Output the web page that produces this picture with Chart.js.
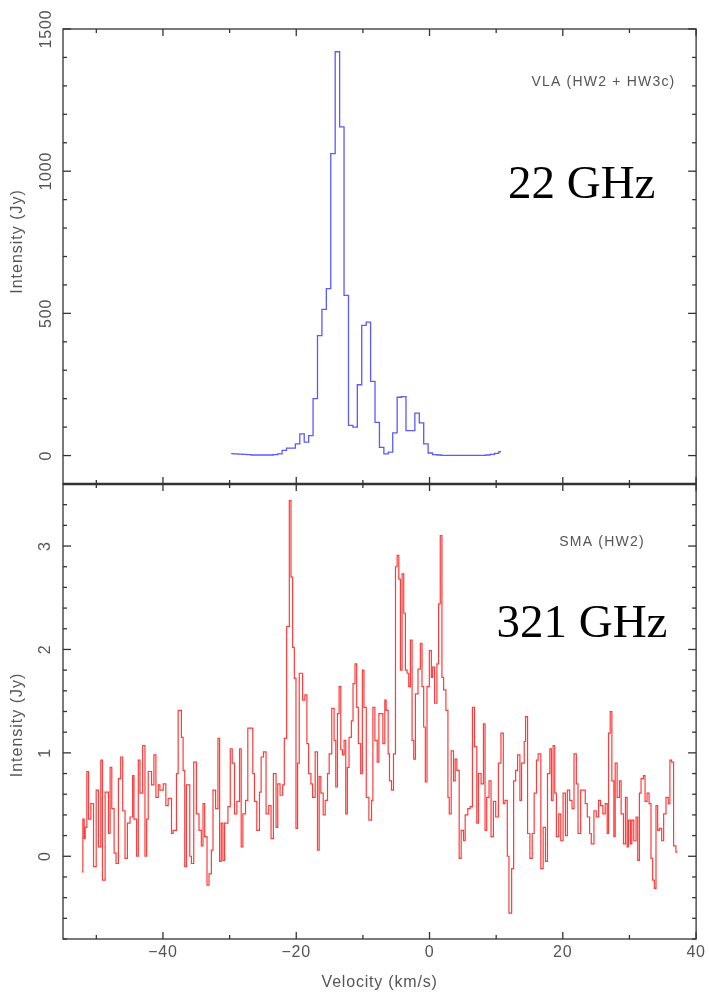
<!DOCTYPE html>
<html>
<head>
<meta charset="utf-8">
<script src="https://cdn.jsdelivr.net/npm/chart.js@4.4.1/dist/chart.umd.min.js"></script>
<style>
  html, body { margin: 0; padding: 0; background: #fff; }
  canvas { display: block; }
</style>
</head>
<body>
<canvas id="spec" width="709" height="994"></canvas>
<script>
// ---- VLA 22 GHz water maser spectrum (HW2 + HW3c), uniform channel grid ----
const vlaFirstChannel = -29.76;   // km/s, centre of first channel
const vlaChannelWidth = 0.664;    // km/s
const vlaFlux = [
  7, 6, 5, 4, 3, 2, 2, 2, 2, 2, 3,
  6, 18, 26, 26, 41, 76, 47, 70, 200, 422,
  514, 587, 1062, 1420, 1156, 563, 106, 100, 249, 458,
  469, 261, 117, 29, 6, 12, 80, 205, 207, 88,
  88, 149, 115, 41, 9, 3,
  2, 1, 1, 1, 1, 1, 1, 1, 1, 1, 1, 2, 4, 8, 14
];

// ---- SMA 321 GHz spectrum (HW2): channel left edges and flux ----
const smaVel = [
  -52.17, -52.02, -51.82, -51.67, -51.42, -51.17, -50.82, -50.42, -50.02, -49.68,
  -49.33, -49.08, -48.68, -48.18, -47.93, -47.68, -47.33, -47.04, -46.69, -46.34,
  -46.04, -45.69, -45.34, -44.94, -44.55, -44.35, -43.95, -43.70, -43.45, -43.05,
  -42.70, -42.45, -42.21, -41.71, -41.36, -41.06, -40.71, -40.46, -39.96, -39.57,
  -39.22, -38.72, -38.47, -37.97, -37.72, -37.23, -36.98, -36.73, -36.48, -35.98,
  -35.73, -35.38, -34.98, -34.59, -34.24, -33.99, -33.74, -33.39, -33.09, -32.74,
  -32.49, -32.10, -31.75, -31.50, -31.25, -31.00, -30.75, -30.25, -29.90, -29.61,
  -29.26, -28.91, -28.51, -28.26, -28.01, -27.61, -27.27, -26.52, -26.27, -25.92,
  -25.52, -25.27, -24.92, -24.53, -24.13, -23.78, -23.43, -23.03, -22.78, -22.43,
  -22.04, -21.79, -21.44, -21.04, -20.79, -20.54, -20.29, -20.04, -19.80, -19.55,
  -19.05, -18.70, -18.40, -18.15, -17.80, -17.55, -17.16, -16.81, -16.56, -16.31,
  -15.96, -15.66, -15.31, -15.06, -14.67, -14.32, -14.07, -13.82, -13.57, -13.32,
  -13.07, -12.82, -12.57, -12.33, -12.08, -11.73, -11.48, -11.18, -10.93, -10.68,
  -10.33, -10.08, -9.84, -9.49,
  -9.10, -8.70, -8.50, -8.20, -7.85, -7.60, -7.00, -6.71, -6.51, -6.21,
  -6.01, -5.71, -5.41, -5.11, -4.86, -4.61, -4.37, -4.12, -3.87, -3.62,
  -3.37, -3.12, -2.87, -2.62, -2.37, -2.12, -1.73, -1.38, -1.13, -0.88,
  -0.63, -0.38, -0.03, 0.27, 0.47, 0.76, 1.11, 1.36, 1.61, 1.86,
  2.11, 2.46, 2.76, 2.96, 3.25, 3.60, 3.85, 4.10, 4.45, 4.75,
  5.10, 5.35, 5.74, 6.09, 6.44, 6.74, 7.09, 7.34, 7.74, 8.09,
  8.33, 8.58, 8.93, 9.23, 9.58, 9.93, 10.33, 10.72, 11.07, 11.32,
  11.67, 11.92, 12.32, 12.62, 12.92, 13.21, 13.56, 13.81, 14.21, 14.41,
  14.71, 15.06, 15.41, 15.70, 16.05, 16.30, 16.70, 17.05, 17.40, 17.70,
  18.05, 18.29, 18.54, 18.79, 19.04, 19.39, 19.69, 20.04, 20.39, 20.68,
  21.03, 21.38, 21.68, 22.03, 22.28, 22.68, 23.37, 23.67, 24.02, 24.27,
  24.67, 25.02, 25.37, 25.66, 26.01, 26.36, 26.66, 26.86, 27.11, 27.36,
  27.66, 27.86, 28.15, 28.50, 28.75, 29.10, 29.40, 29.65, 29.85, 30.15,
  30.35, 30.64, 30.99, 31.24, 31.49, 31.74, 32.09, 32.34, 32.64, 32.94,
  33.23, 33.48, 33.73, 33.98, 34.23, 34.48, 34.83, 35.13, 35.48, 35.82,
  36.07, 36.32, 36.62, 36.97, 37.22
];
const smaFlux = [
  -0.15, 0.36, 0.17, 0.28, 0.82, 0.36, 0.51, -0.10, 0.64, 0.09,
  0.93, -0.23, 0.62, 0.22, 0.86, 0.46, 0.03, -0.07, 0.75, 0.96,
  0.44, -0.02, 0.32, 0.38, 0.78, 0.36, 0.00, 0.93, 0.61, 1.07,
  0.00, 0.36, 0.82, 0.69, 0.98, 0.57, 0.69, 0.64, 0.70, 0.49,
  0.56, 0.22, 0.25, 0.80, 1.41, 1.15, 0.83, -0.10, 0.69, 0.00,
  -0.07, 0.91, 0.41, 0.25, 0.10, 0.51, 0.19, -0.28, -0.17, 0.06,
  0.64, 0.46, 1.14, -0.05, 0.32, -0.04, 0.32, 0.48, 1.04, 0.90,
  0.41, 0.53, 1.04, 0.09, 0.41, 0.54, 1.24, 0.80, 0.53, 0.25,
  0.62, 0.96, 1.01, 0.41, 0.49, 0.17, 0.80, 0.28, 0.70, 0.59,
  0.69, 1.14, 2.22, 3.44, 2.70, 2.02, 1.72, 0.27, 0.90, 1.77,
  1.51, 1.56, 1.09, 0.80, 0.70, 0.57, 1.01, 0.06, 0.77, 0.61,
  0.40, 0.54, 0.80, 0.99, 1.43, 1.12, 0.67, 1.38, 1.64, 1.03,
  0.98, 1.12, 0.41, 0.86, 1.15, 1.31, 1.67, 1.86, 1.44, 1.09,
  0.80, 1.80, 1.44, 0.57,
  0.35, 0.54, 1.44, 1.12, 0.91, 1.38, 1.09, 1.51, 1.41, 0.99,
  0.73, 0.64, 0.99, 2.80, 2.91, 2.68, 1.80, 2.73, 2.35, 1.80,
  1.77, 1.64, 2.09, 1.12, 0.94, 1.57, 1.81, 2.06, 1.64, 1.25,
  0.72, 1.64, 1.99, 1.73, 1.83, 1.48, 1.86, 2.44, 3.10, 1.73,
  1.61, 1.41, 0.57, 0.41, 1.02, 0.73, 0.94, 0.83, -0.02, 0.25,
  0.15, 0.40, 0.46, 0.48, 1.44, 1.06, 0.32, 0.80, 0.70, 1.28,
  0.25, 0.57, 0.73, 0.19, 0.53, 0.38, 0.90, 1.19, 0.51, 0.54,
  0.00, -0.55, -0.12, 0.73, 0.83, 0.98, 0.54, 0.90, 1.11, 1.35,
  0.22, -0.02, 0.22, 0.61, 0.93, 0.99, -0.12, 0.28, -0.05, 0.80,
  1.04, 0.54, 1.07, 0.61, 0.19, 0.41, 0.15, 0.61, 0.20, 0.64,
  0.54, 0.46, 0.99, 0.70, 0.22, 0.64, 0.51, 0.38, 0.22, 0.12,
  0.44, 0.38, 0.54, 0.49, 0.41, 0.51, 0.22, 1.19, 1.40, 0.73,
  0.19, 0.90, 0.57, 0.73, 0.41, 0.12, 0.57, 0.09, 0.35, 0.12,
  0.35, 0.15, 0.38, -0.04, 0.61, 0.75, 0.78, 0.53, 0.61, 0.51,
  -0.02, -0.23, -0.31, 0.49, 0.25, 0.27, 0.15, 0.41, 0.57, 0.51,
  0.93, 0.91, 0.10, 0.04, 0.04
];

// ---- axis ticks ----
const velTicks = [-50, -40, -30, -20, -10, 0, 10, 20, 30, 40];
const vlaTicks = [-100, 0, 100, 200, 300, 400, 500, 600, 700, 800, 900,
                  1000, 1100, 1200, 1300, 1400, 1500];
const smaTicks = [-0.8, -0.6, -0.4, -0.2, 0, 0.2, 0.4, 0.6, 0.8, 1, 1.2, 1.4,
                  1.6, 1.8, 2, 2.2, 2.4, 2.6, 2.8, 3, 3.2, 3.4, 3.6];

const vlaPoints = vlaFlux.map((f, i) => ({ x: vlaFirstChannel + i * vlaChannelWidth, y: f }));
const smaPoints = smaVel.map((v, i) => ({ x: v, y: smaFlux[i] }));

const SANS = "'Liberation Sans', Arial, Helvetica, sans-serif";
const SERIF = "'Liberation Serif', 'Times New Roman', serif";
const GREY = '#555';

// panel annotations, placed in data coordinates
const notes = [
  { text: 'VLA (HW2 + HW3c)', axis: 'yVla', v: 36.9, y: 1313, font: '14px ' + SANS, color: GREY, spacing: '1.2px', baseline: 'middle' },
  { text: '22 GHz', axis: 'yVla', v: 33.9, y: 905, font: '47px ' + SERIF, color: '#000', spacing: '0px', baseline: 'alphabetic' },
  { text: 'SMA (HW2)', axis: 'ySma', v: 32.3, y: 3.04, font: '14px ' + SANS, color: GREY, spacing: '1.2px', baseline: 'middle' },
  { text: '321 GHz', axis: 'ySma', v: 35.7, y: 2.12, font: '47px ' + SERIF, color: '#000', spacing: '0px', baseline: 'alphabetic' }
];
// y-axis titles, centred on these intensities of each panel
const yTitles = [
  { text: 'Intensity (Jy)', axis: 'yVla', y: 753 },
  { text: 'Intensity (Jy)', axis: 'ySma', y: 1.27 }
];

const fmtVel = v => (v < 0 ? '\u2212' + Math.abs(v) : String(v));

// slightly open letter spacing for all axis text
const axisTextSpacing = {
  id: 'axisTextSpacing',
  beforeDraw(chart) { chart.ctx.letterSpacing = '0.8px'; }
};

// boxed panels with inward tick marks on every side, plus the panel labels
const panelFrames = {
  id: 'panelFrames',
  afterDraw(chart) {
    const { ctx, chartArea: a, scales } = chart;
    const xs = scales.x;
    const panels = [scales.yVla, scales.ySma];
    const seg = (x1, y1, x2, y2) => { ctx.beginPath(); ctx.moveTo(x1, y1); ctx.lineTo(x2, y2); ctx.stroke(); };
    ctx.save();
    ctx.strokeStyle = '#333';
    ctx.lineWidth = 1.3;
    panels.forEach(ys => {
      ctx.strokeRect(a.left, ys.top, a.right - a.left, ys.bottom - ys.top);
      xs.ticks.forEach(t => {
        const px = xs.getPixelForValue(t.value);
        const len = t.value % 20 === 0 ? 7 : 4;
        seg(px, ys.top, px, ys.top + len);
        seg(px, ys.bottom, px, ys.bottom - len);
      });
      ys.ticks.forEach(t => {
        const py = ys.getPixelForValue(t.value);
        const len = t.label ? 8 : 4;
        seg(a.left, py, a.left + len, py);
        seg(a.right, py, a.right - len, py);
      });
    });
    // shared boundary between the two panels
    ctx.lineWidth = 2.6;
    seg(a.left, scales.yVla.bottom, a.right, scales.yVla.bottom);

    notes.forEach(n => {
      ctx.font = n.font;
      ctx.fillStyle = n.color;
      ctx.textAlign = 'right';
      ctx.textBaseline = n.baseline;
      ctx.letterSpacing = n.spacing;
      ctx.fillText(n.text, xs.getPixelForValue(n.v), scales[n.axis].getPixelForValue(n.y));
    });

    ctx.font = '16px ' + SANS;
    ctx.fillStyle = GREY;
    ctx.textAlign = 'center';
    ctx.textBaseline = 'middle';
    ctx.letterSpacing = '1px';
    yTitles.forEach(t => {
      ctx.save();
      ctx.translate(18, scales[t.axis].getPixelForValue(t.y));
      ctx.rotate(-Math.PI / 2);
      ctx.fillText(t.text, 0, 0);
      ctx.restore();
    });
    ctx.restore();
  }
};

new Chart(document.getElementById('spec'), {
  type: 'line',
  data: {
    datasets: [
      {
        label: 'VLA (HW2 + HW3c)',
        data: vlaPoints,
        yAxisID: 'yVla',
        stepped: 'middle',
        borderColor: '#5a5aff',
        borderWidth: 1.3,
        pointRadius: 0,
        fill: false
      },
      {
        label: 'SMA (HW2)',
        data: smaPoints,
        yAxisID: 'ySma',
        stepped: 'before',
        borderColor: '#ff3c3c',
        borderWidth: 1.2,
        pointRadius: 0,
        fill: false
      }
    ]
  },
  options: {
    responsive: false,
    animation: false,
    events: [],
    layout: { padding: { top: 29, right: 11, left: 0, bottom: 0 } },
    plugins: { legend: { display: false }, tooltip: { enabled: false } },
    scales: {
      x: {
        type: 'linear',
        position: 'bottom',
        min: -55,
        max: 40,
        afterBuildTicks: s => { s.ticks = velTicks.map(v => ({ value: v })); },
        afterFit: s => { s.height = 55; },
        grid: { display: false, drawTicks: false },
        border: { display: false },
        ticks: {
          autoSkip: false,
          maxRotation: 0,
          padding: 4,
          color: GREY,
          font: { family: SANS, size: 16 },
          callback: v => (v % 20 === 0 ? fmtVel(v) : '')
        },
        title: {
          display: true,
          text: 'Velocity (km/s)',
          color: GREY,
          font: { family: SANS, size: 16 },
          padding: { top: 0, bottom: 2 }
        }
      },
      ySma: {
        type: 'linear',
        position: 'left',
        stack: 'panels',
        stackWeight: 1,
        min: -0.8,
        max: 3.6,
        afterBuildTicks: s => { s.ticks = smaTicks.map(v => ({ value: v })); },
        afterFit: s => { s.width = 63; },
        grid: { display: false, drawTicks: false },
        border: { display: false },
        ticks: {
          autoSkip: false,
          minRotation: 90,
          crossAlign: 'center',
          padding: 12.5,
          color: GREY,
          font: { family: SANS, size: 16 },
          callback: v => (Number.isInteger(v) ? String(v) : '')
        }
      },
      yVla: {
        type: 'linear',
        position: 'left',
        stack: 'panels',
        stackWeight: 1,
        min: -100,
        max: 1500,
        afterBuildTicks: s => { s.ticks = vlaTicks.map(v => ({ value: v })); },
        afterFit: s => { s.width = 63; },
        grid: { display: false, drawTicks: false },
        border: { display: false },
        ticks: {
          autoSkip: false,
          minRotation: 90,
          crossAlign: 'center',
          padding: -1,
          color: GREY,
          font: { family: SANS, size: 16 },
          callback: v => (v % 500 === 0 ? String(v) : '')
        }
      }
    }
  },
  plugins: [axisTextSpacing, panelFrames]
});
</script>
</body>
</html>
